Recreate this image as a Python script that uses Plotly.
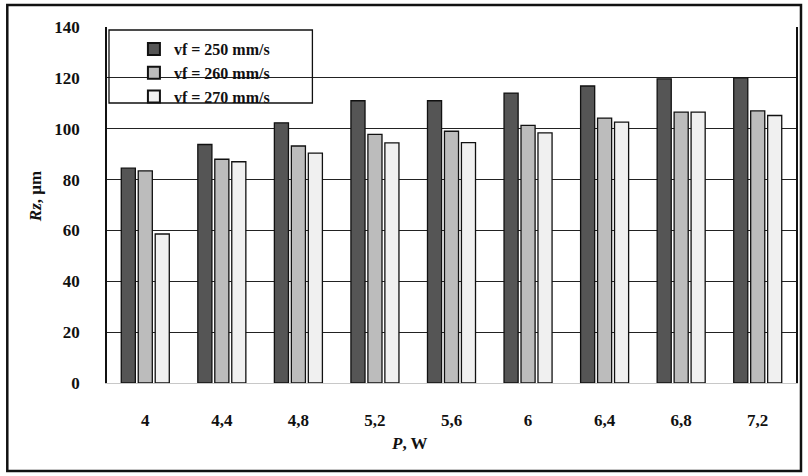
import plotly.graph_objects as go

categories = ["4", "4,4", "4,8", "5,2", "5,6", "6", "6,4", "6,8", "7,2"]
vf250 = [84.5, 93.8, 102.3, 111.0, 111.0, 114.0, 116.8, 119.6, 120.0]
vf260 = [83.4, 88.0, 93.2, 97.8, 99.0, 101.3, 104.2, 106.5, 107.0]
vf270 = [58.6, 87.0, 90.4, 94.4, 94.5, 98.4, 102.6, 106.5, 105.2]
series_names = ["vf = 250 mm/s", "vf = 260 mm/s", "vf = 270 mm/s"]
series_colors = ["#555555", "#bcbcbc", "#f0f0f0"]
y_ticks = [0, 20, 40, 60, 80, 100, 120, 140]

FONT = "Liberation Serif"

fig = go.Figure()
for name, vals, col in zip(series_names, [vf250, vf260, vf270], series_colors):
    fig.add_trace(go.Bar(
        x=categories, y=vals, name=name, legendgroup=name,
        marker=dict(color=col, line=dict(color="#111111", width=1.3)),
    ))

# plot area in pixels: x 107..798, y 27..383
L, R, T, B = 107, 10, 27, 93
W, H = 808, 476
pw, ph = W - L - R, H - T - B

def px(x):
    return (x - L) / pw

def py(y):
    return (H - B - y) / ph

fig.update_layout(
    width=W, height=H,
    margin=dict(l=L, r=R, t=T, b=B, pad=0),
    paper_bgcolor="white", plot_bgcolor="white",
    barmode="group", bargap=0.335, bargroupgap=0.17,
    font=dict(family=FONT, size=16, color="#111111"),
    showlegend=True,
    legend=dict(
        x=px(134), y=py(32), xanchor="left", yanchor="top",
        bgcolor="rgba(0,0,0,0)", borderwidth=0,
        font=dict(family=FONT, size=16, color="#111111", weight="bold"),
        traceorder="grouped", tracegroupgap=0,
        itemsizing="constant",
    ),
    xaxis=dict(
        showgrid=False, showline=True, linecolor="#c8c8c8", linewidth=1,
        ticks="", ticklabelstandoff=22,
        tickfont=dict(family=FONT, size=17, color="#111111", weight="bold"),
        fixedrange=True,
    ),
    yaxis=dict(
        range=[0, 140], tickvals=y_ticks,
        showgrid=True, gridcolor="#222222", gridwidth=1,
        showline=True, linecolor="#111111", linewidth=1.5, mirror=True,
        zeroline=False, ticks="", ticklabelstandoff=22,
        tickfont=dict(family=FONT, size=17, color="#111111", weight="bold"),
        fixedrange=True,
    ),
    shapes=[
        # outer chart frame
        dict(type="rect", xref="paper", yref="paper",
             x0=px(7), x1=px(803), y0=py(471), y1=py(5),
             line=dict(color="#111111", width=2.5), layer="above"),
        # legend frame
        dict(type="rect", xref="paper", yref="paper",
             x0=px(109), x1=px(313), y0=py(103), y1=py(30),
             line=dict(color="#111111", width=1.3), layer="above"),
    ],
    annotations=[
        dict(text="<b><i>Rz</i>, µm</b>", xref="paper", yref="paper",
             x=px(36), y=py(197), textangle=-90, showarrow=False,
             xanchor="center", yanchor="middle",
             font=dict(family=FONT, size=17, color="#111111")),
        dict(text="<b><i>P</i>, W</b>", xref="paper", yref="paper",
             x=px(410), y=py(443), showarrow=False,
             xanchor="center", yanchor="middle",
             font=dict(family=FONT, size=17, color="#111111")),
    ],
)

fig.write_html("out.html", config={"displayModeBar": False},
               post_script="document.body.style.margin='0';")
